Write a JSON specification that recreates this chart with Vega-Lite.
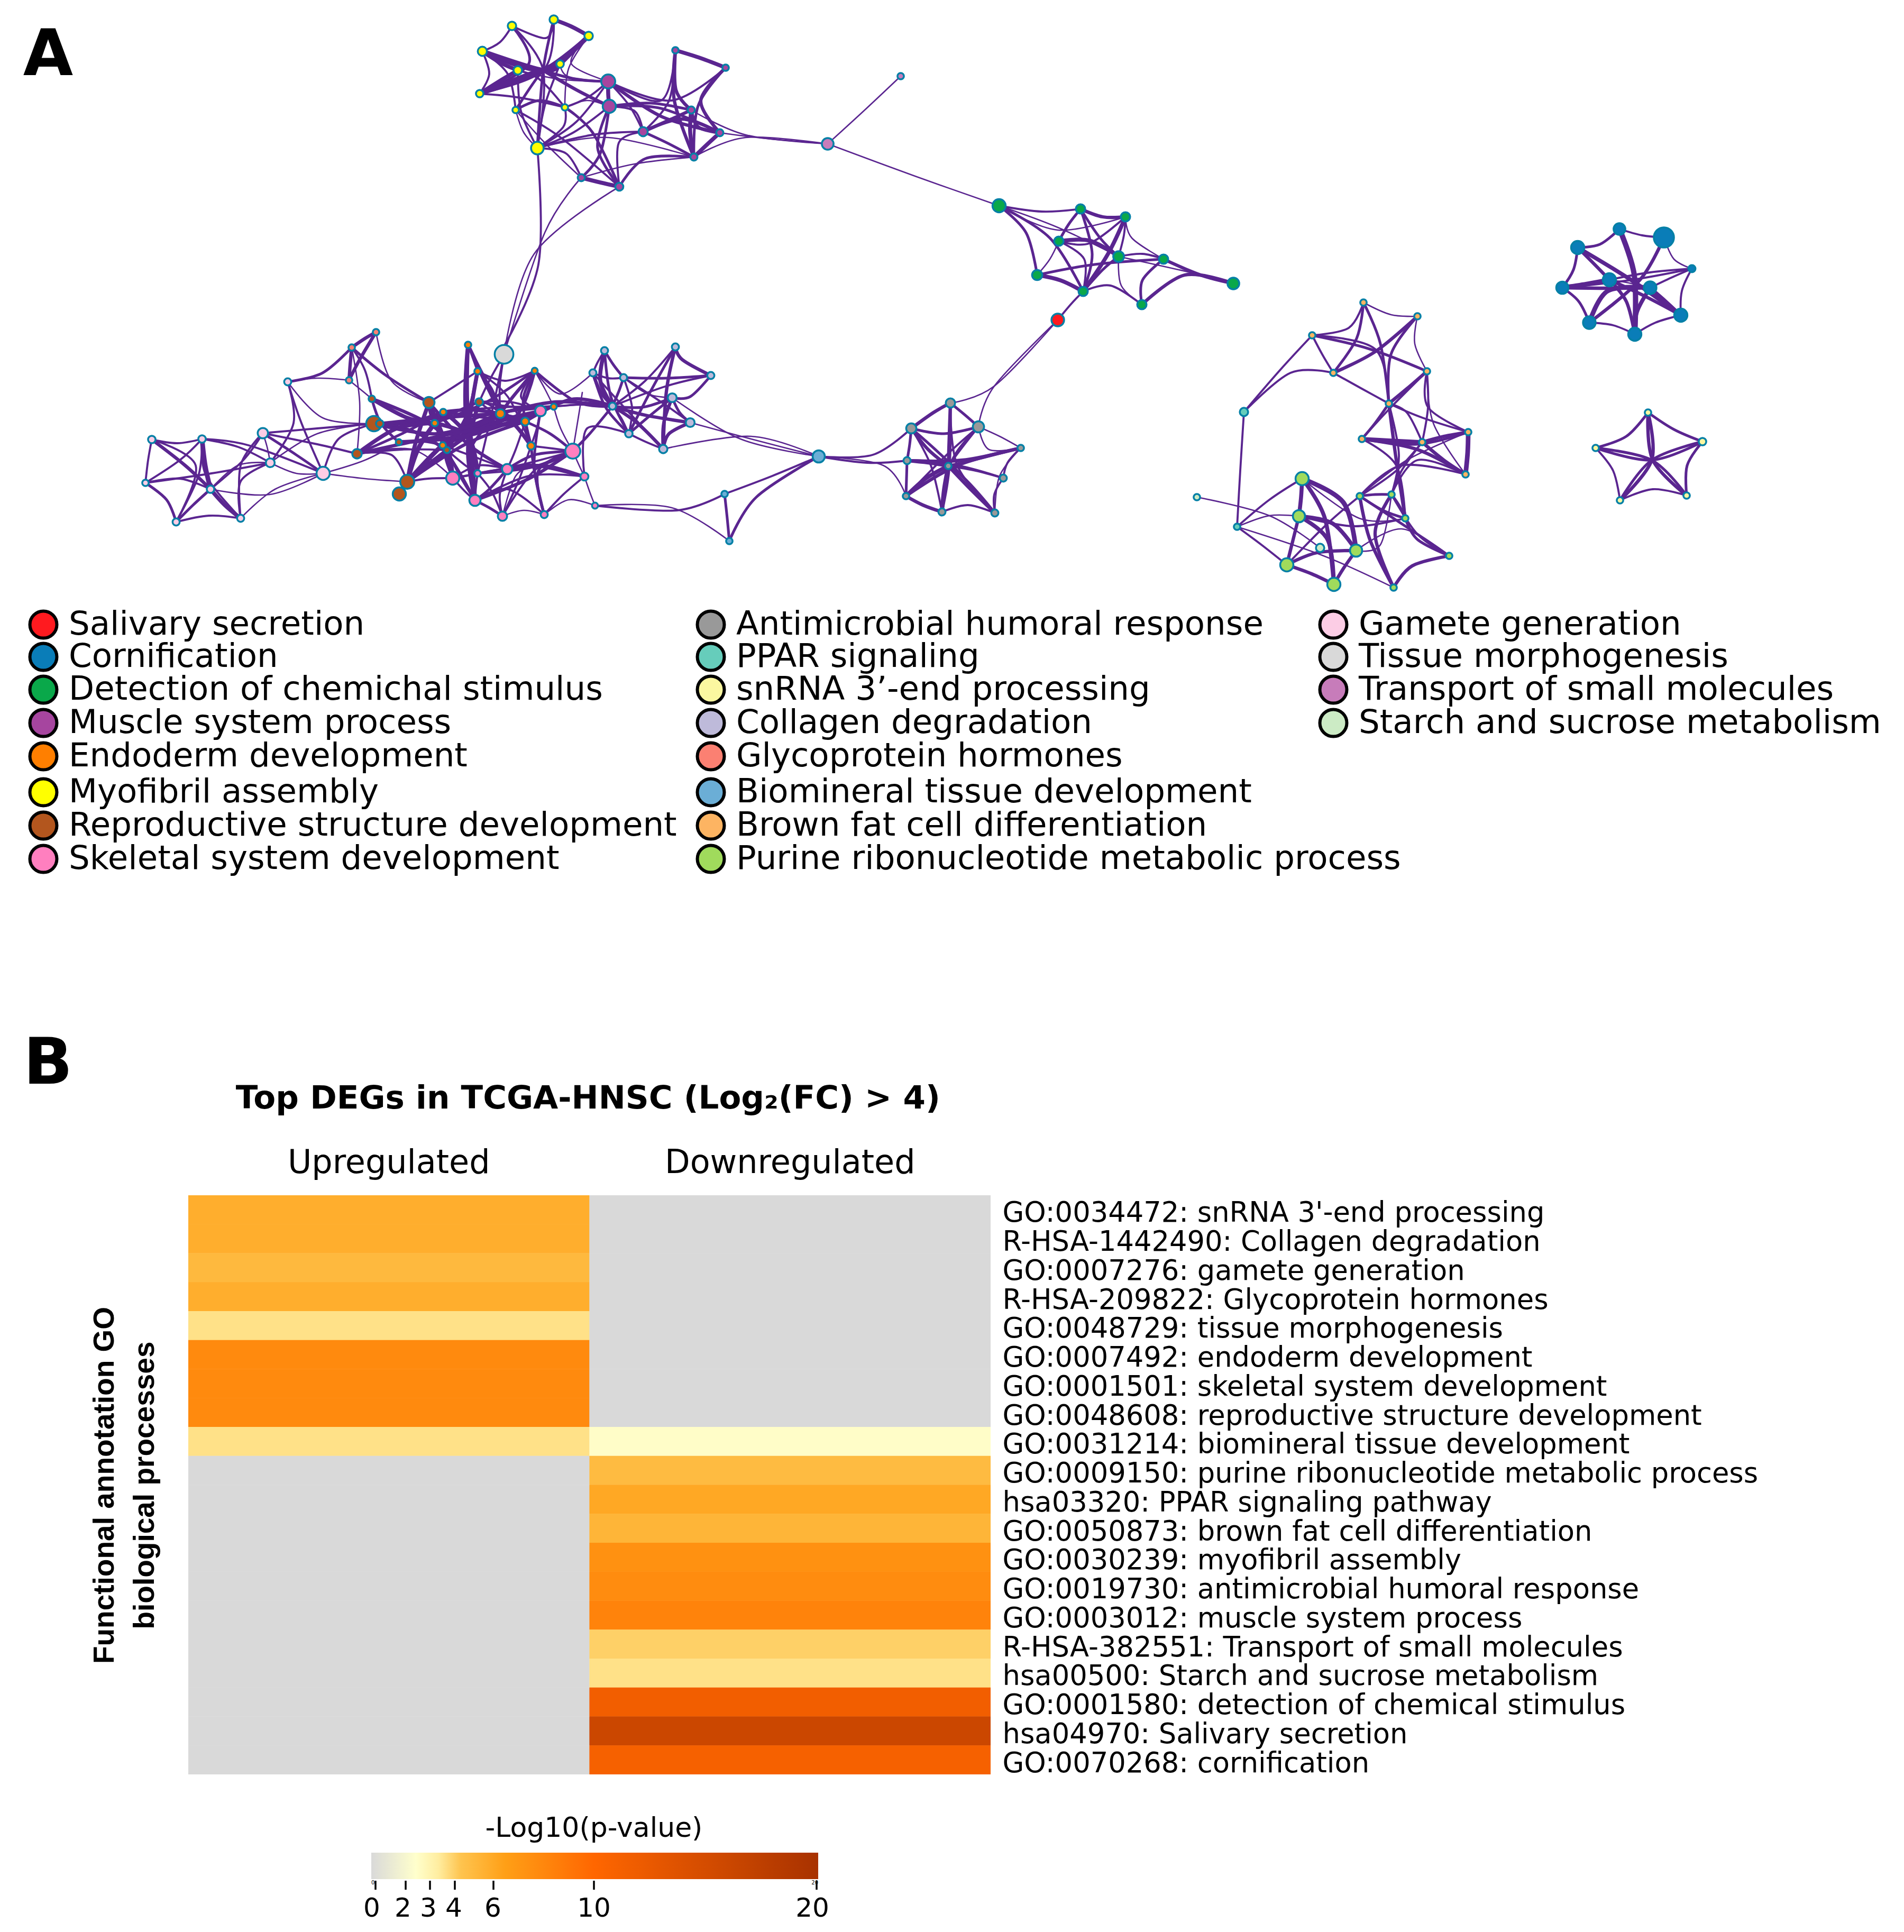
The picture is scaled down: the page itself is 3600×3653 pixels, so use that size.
{"$schema":"https://vega.github.io/schema/vega-lite/v6.json","padding":0,"background":"white","bounds":"flush","spacing":0,"config":{"view":{"stroke":null},"font":"DejaVu Sans","concat":{"spacing":0}},
"datasets":{"edges":[
{"w":3,"x":[968,945,912],"y":[49,80,97]},{"w":3,"x":[968,1027,1016],"y":[49,133,280]},{"w":4,"x":[968,1000,907],"y":[49,120,177]},{"w":3,"x":[968,1032,1047],"y":[49,72,37]},{"w":6,"x":[1047,1080,1113],"y":[37,50,68]},{"w":4,"x":[1047,1027,1016],"y":[37,133,280]},{"w":3,"x":[1047,1027,907],"y":[37,133,177]},{"w":6,"x":[1113,1027,907],"y":[68,133,177]},{"w":5,"x":[1113,1027,912],"y":[68,133,97]},{"w":7,"x":[1113,1085,1059],"y":[68,95,121]},{"w":2,"x":[1113,1075,1068],"y":[68,130,203]},{"w":7,"x":[912,1027,1059],"y":[97,133,121]},{"w":6,"x":[912,945,979],"y":[97,118,133]},{"w":3,"x":[912,925,907],"y":[97,140,177]},{"w":3,"x":[912,960,975],"y":[97,140,208]},{"w":6,"x":[907,950,979],"y":[177,150,133]},{"w":6,"x":[907,1000,1059],"y":[177,140,121]},{"w":3,"x":[907,985,1068],"y":[177,185,203]},{"w":4,"x":[975,1020,1068],"y":[208,190,203]},{"w":4,"x":[975,1027,1059],"y":[208,133,121]},{"w":3,"x":[979,1020,1068],"y":[133,150,203]},{"w":3,"x":[979,985,1016],"y":[133,210,280]},{"w":3,"x":[1059,1030,1016],"y":[121,200,280]},{"w":2,"x":[975,990,1016],"y":[208,250,280]},{"w":3,"x":[1068,1065,1016],"y":[203,240,280]},{"w":4,"x":[1027,1090,1150],"y":[133,150,154]},{"w":2,"x":[1059,1075,1150],"y":[121,145,154]},{"w":2,"x":[1113,1080,1150],"y":[68,120,154]},{"w":2,"x":[979,1060,1150],"y":[133,150,154]},{"w":5,"x":[1027,1090,1152],"y":[133,170,201]},{"w":6,"x":[1150,1150,1152],"y":[154,178,201]},{"w":3,"x":[1150,1110,1068],"y":[154,185,203]},{"w":2,"x":[1152,1110,1068],"y":[201,190,203]},{"w":3,"x":[1150,1090,1016],"y":[154,230,280]},{"w":3,"x":[1152,1085,1016],"y":[201,250,280]},{"w":4,"x":[1068,1120,1171],"y":[203,250,353]},{"w":4,"x":[1152,1135,1099],"y":[201,290,336]},{"w":4,"x":[1152,1130,1171],"y":[201,280,353]},{"w":3,"x":[975,1060,1171],"y":[208,260,353]},{"w":2,"x":[975,1030,1099],"y":[208,270,336]},{"w":3,"x":[1016,1070,1099],"y":[280,290,336]},{"w":3,"x":[1016,1120,1216],"y":[280,255,249]},{"w":6,"x":[1099,1135,1171],"y":[336,345,353]},{"w":3,"x":[1171,1170,1216],"y":[353,270,249]},{"w":2,"x":[1099,1200,1312],"y":[336,310,297]},{"w":4,"x":[1171,1220,1312],"y":[353,300,297]},{"w":4,"x":[1216,1265,1312],"y":[249,272,297]},{"w":3,"x":[1216,1200,1152],"y":[249,210,201]},{"w":3,"x":[1150,1190,1216],"y":[154,200,249]},{"w":5,"x":[1150,1250,1361],"y":[154,220,251]},{"w":4,"x":[1152,1230,1307],"y":[201,195,208]},{"w":4,"x":[1152,1250,1361],"y":[201,205,251]},{"w":3,"x":[1150,1250,1277],"y":[154,190,95]},{"w":3,"x":[1150,1270,1372],"y":[154,190,128]},{"w":6,"x":[1277,1325,1372],"y":[95,110,128]},{"w":5,"x":[1277,1278,1307],"y":[95,170,208]},{"w":5,"x":[1277,1275,1312],"y":[95,190,297]},{"w":3,"x":[1277,1265,1216],"y":[95,190,249]},{"w":4,"x":[1372,1320,1312],"y":[128,200,297]},{"w":5,"x":[1372,1325,1361],"y":[128,190,251]},{"w":6,"x":[1307,1305,1312],"y":[208,250,297]},{"w":5,"x":[1307,1320,1361],"y":[208,240,251]},{"w":5,"x":[1216,1290,1361],"y":[249,225,251]},{"w":5,"x":[1216,1270,1307],"y":[249,225,208]},{"w":6,"x":[1361,1335,1312],"y":[251,275,297]},{"w":2,"x":[1361,1450,1565],"y":[251,262,272]},{"w":2,"x":[1307,1410,1565],"y":[208,255,272]},{"w":2,"x":[1312,1410,1565],"y":[297,260,272]},{"w":2,"x":[1565,1635,1703],"y":[272,208,144]},{"w":2,"x":[1565,1730,1889],"y":[272,333,389]},{"w":3,"x":[1016,1018,947],"y":[280,500,665]},{"w":2,"x":[1099,1030,953],"y":[336,440,670]},{"w":2,"x":[1171,1010,953],"y":[353,480,670]},{"w":2,"x":[1016,1150,1312],"y":[280,260,297]},
{"w":3,"x":[1889,1970,2043],"y":[389,400,395]},{"w":2,"x":[1889,2000,2128],"y":[389,435,410]},{"w":4,"x":[1889,1940,1961],"y":[389,440,520]},{"w":4,"x":[1889,1985,2048],"y":[389,450,551]},{"w":2,"x":[1889,2000,2115],"y":[389,430,485]},{"w":5,"x":[2043,2085,2128],"y":[395,410,410]},{"w":4,"x":[2043,2020,2002],"y":[395,425,456]},{"w":4,"x":[2043,2080,2115],"y":[395,450,485]},{"w":4,"x":[2043,2065,2048],"y":[395,480,551]},{"w":3,"x":[2128,2125,2115],"y":[410,445,485]},{"w":6,"x":[2128,2095,2048],"y":[410,480,551]},{"w":3,"x":[2128,2060,2002],"y":[410,460,456]},{"w":2,"x":[2128,2140,2200],"y":[410,450,490]},{"w":6,"x":[2002,2060,2115],"y":[456,455,485]},{"w":2,"x":[2002,1985,1961],"y":[456,490,520]},{"w":3,"x":[2002,2050,2048],"y":[456,490,551]},{"w":3,"x":[2115,2160,2200],"y":[485,480,490]},{"w":4,"x":[2115,2085,2048],"y":[485,510,551]},{"w":4,"x":[2200,2070,1961],"y":[490,500,520]},{"w":6,"x":[1961,2005,2048],"y":[520,530,551]},{"w":2,"x":[2115,2120,2159],"y":[485,540,576]},{"w":3,"x":[2048,2100,2159],"y":[551,540,576]},{"w":4,"x":[2200,2160,2159],"y":[490,530,576]},{"w":5,"x":[2200,2270,2332],"y":[490,520,536]},{"w":5,"x":[2159,2240,2332],"y":[576,520,536]},{"w":2,"x":[2115,2250,2332],"y":[485,515,536]},{"w":3,"x":[2048,2025,2000],"y":[551,575,605]},{"w":2,"x":[2000,1880,1797],"y":[605,730,762]},{"w":2,"x":[2000,1880,1850],"y":[605,730,807]},
{"w":5,"x":[1797,1765,1723],"y":[762,780,810]},{"w":4,"x":[1797,1825,1850],"y":[762,785,807]},{"w":5,"x":[1797,1795,1793],"y":[762,820,881]},{"w":4,"x":[1797,1795,1781],"y":[762,880,968]},{"w":3,"x":[1797,1810,1881],"y":[762,880,970]},{"w":4,"x":[1723,1785,1850],"y":[810,820,807]},{"w":5,"x":[1723,1755,1793],"y":[810,850,881]},{"w":4,"x":[1723,1720,1715],"y":[810,840,871]},{"w":3,"x":[1723,1760,1781],"y":[810,880,968]},{"w":4,"x":[1723,1800,1881],"y":[810,880,970]},{"w":3,"x":[1850,1790,1713],"y":[807,860,938]},{"w":3,"x":[1850,1820,1793],"y":[807,845,881]},{"w":3,"x":[1850,1800,1781],"y":[807,870,968]},{"w":2,"x":[1850,1870,1930],"y":[807,850,847]},{"w":2,"x":[1850,1890,1930],"y":[807,825,847]},{"w":5,"x":[1715,1755,1793],"y":[871,875,881]},{"w":5,"x":[1715,1820,1930],"y":[871,870,847]},{"w":4,"x":[1715,1714,1713],"y":[871,905,938]},{"w":4,"x":[1715,1800,1881],"y":[871,885,970]},{"w":3,"x":[1715,1810,1897],"y":[871,880,904]},{"w":5,"x":[1930,1810,1713],"y":[847,880,938]},{"w":3,"x":[1930,1905,1897],"y":[847,875,904]},{"w":2,"x":[1930,1890,1881],"y":[847,900,970]},{"w":4,"x":[1930,1860,1793],"y":[847,865,881]},{"w":3,"x":[1897,1880,1881],"y":[904,935,970]},{"w":3,"x":[1897,1845,1793],"y":[904,890,881]},{"w":6,"x":[1793,1750,1713],"y":[881,905,938]},{"w":6,"x":[1793,1785,1781],"y":[881,925,968]},{"w":5,"x":[1793,1835,1881],"y":[881,925,970]},{"w":5,"x":[1713,1745,1781],"y":[938,955,968]},{"w":3,"x":[1781,1830,1881],"y":[968,955,970]},
{"w":3,"x":[1548,1650,1723],"y":[863,860,810]},{"w":3,"x":[1548,1640,1715],"y":[863,875,871]},{"w":2,"x":[1548,1670,1713],"y":[863,880,938]},{"w":3,"x":[1548,1460,1370],"y":[863,900,934]},{"w":4,"x":[1548,1430,1379],"y":[863,940,1023]},{"w":4,"x":[1370,1375,1379],"y":[934,980,1023]},{"w":3,"x":[1125,1280,1370],"y":[956,965,934]},{"w":2,"x":[1125,1270,1379],"y":[956,960,1023]},{"w":2,"x":[1305,1420,1548],"y":[799,830,863]},{"w":2,"x":[1254,1420,1548],"y":[849,825,863]},{"w":2,"x":[1271,1400,1548],"y":[752,830,863]},
{"w":2,"x":[2578,2630,2680],"y":[572,595,598]},{"w":3,"x":[2578,2550,2481],"y":[572,620,634]},{"w":4,"x":[2578,2565,2521],"y":[572,640,705]},{"w":4,"x":[2578,2610,2626],"y":[572,650,763]},{"w":5,"x":[2680,2600,2521],"y":[598,665,705]},{"w":4,"x":[2680,2630,2626],"y":[598,670,763]},{"w":2,"x":[2680,2675,2698],"y":[598,650,702]},{"w":3,"x":[2481,2500,2521],"y":[634,670,705]},{"w":4,"x":[2481,2590,2698],"y":[634,660,702]},{"w":3,"x":[2481,2600,2626],"y":[634,660,763]},{"w":3,"x":[2521,2575,2626],"y":[705,735,763]},{"w":3,"x":[2481,2420,2352],"y":[634,700,779]},{"w":3,"x":[2521,2440,2352],"y":[705,705,779]},{"w":5,"x":[2698,2660,2626],"y":[702,735,763]},{"w":3,"x":[2698,2630,2575],"y":[702,770,830]},{"w":3,"x":[2698,2700,2689],"y":[702,770,836]},{"w":3,"x":[2698,2700,2776],"y":[702,770,817]},{"w":2,"x":[2698,2710,2771],"y":[702,800,897]},{"w":4,"x":[2626,2600,2575],"y":[763,800,830]},{"w":3,"x":[2626,2660,2689],"y":[763,780,836]},{"w":3,"x":[2626,2690,2776],"y":[763,790,817]},{"w":6,"x":[2575,2630,2689],"y":[830,833,836]},{"w":4,"x":[2575,2680,2776],"y":[830,840,817]},{"w":5,"x":[2575,2680,2771],"y":[830,850,897]},{"w":5,"x":[2689,2730,2776],"y":[836,825,817]},{"w":5,"x":[2689,2730,2771],"y":[836,870,897]},{"w":7,"x":[2776,2775,2771],"y":[817,855,897]},{"w":5,"x":[2626,2640,2657],"y":[763,870,980]},{"w":3,"x":[2626,2645,2631],"y":[763,860,935]},{"w":3,"x":[2575,2640,2657],"y":[830,880,980]},{"w":3,"x":[2689,2640,2571],"y":[836,890,938]},{"w":3,"x":[2689,2650,2631],"y":[836,890,935]},{"w":3,"x":[2771,2650,2571],"y":[897,880,938]},{"w":3,"x":[2771,2680,2631],"y":[897,870,935]},{"w":2,"x":[2776,2660,2571],"y":[817,870,938]},{"w":3,"x":[2352,2345,2339],"y":[779,890,996]},{"w":2,"x":[2263,2400,2496],"y":[940,975,1036]},{"w":2,"x":[2339,2500,2635],"y":[996,1050,1111]},{"w":3,"x":[2339,2400,2462],"y":[996,945,905]},{"w":2,"x":[2339,2400,2456],"y":[996,975,976]},{"w":3,"x":[2339,2385,2433],"y":[996,1030,1068]},
{"w":6,"x":[2462,2460,2456],"y":[905,940,976]},{"w":7,"x":[2462,2540,2564],"y":[905,950,1041]},{"w":6,"x":[2462,2505,2522],"y":[905,980,1105]},{"w":5,"x":[2456,2445,2433],"y":[976,1020,1068]},{"w":6,"x":[2456,2520,2564],"y":[976,990,1041]},{"w":6,"x":[2456,2510,2522],"y":[976,1020,1105]},{"w":5,"x":[2564,2490,2433],"y":[1041,1045,1068]},{"w":5,"x":[2564,2540,2522],"y":[1041,1075,1105]},{"w":5,"x":[2433,2480,2522],"y":[1068,1085,1105]},{"w":3,"x":[2433,2510,2571],"y":[1068,990,938]},{"w":3,"x":[2456,2560,2657],"y":[976,995,980]},{"w":2,"x":[2564,2610,2631],"y":[1041,1030,935]},{"w":2,"x":[2462,2570,2657],"y":[905,980,980]},{"w":4,"x":[2571,2600,2631],"y":[938,935,935]},{"w":4,"x":[2571,2615,2657],"y":[938,965,980]},{"w":4,"x":[2631,2645,2657],"y":[935,955,980]},{"w":5,"x":[2571,2590,2635],"y":[938,1020,1111]},{"w":5,"x":[2631,2600,2635],"y":[935,1010,1111]},{"w":4,"x":[2657,2680,2740],"y":[980,1020,1051]},{"w":4,"x":[2571,2680,2740],"y":[938,1010,1051]},{"w":3,"x":[2631,2680,2740],"y":[935,1010,1051]},{"w":5,"x":[2740,2670,2635],"y":[1051,1070,1111]},{"w":2,"x":[2564,2650,2740],"y":[1041,1000,1051]},
{"w":3,"x":[3062,3105,3146],"y":[433,445,449]},{"w":4,"x":[3062,3025,2983],"y":[433,462,468]},{"w":8,"x":[3062,3090,3091],"y":[433,520,632]},{"w":2,"x":[3146,3165,3199],"y":[449,490,508]},{"w":5,"x":[3146,3100,3005],"y":[449,530,610]},{"w":4,"x":[2983,2975,2954],"y":[468,510,544]},{"w":5,"x":[2983,3015,3043],"y":[468,500,529]},{"w":6,"x":[2983,3085,3178],"y":[468,530,596]},{"w":3,"x":[3199,3080,2954],"y":[508,530,544]},{"w":3,"x":[3199,3120,3043],"y":[508,515,529]},{"w":3,"x":[3199,3160,3120],"y":[508,525,544]},{"w":3,"x":[3199,3180,3178],"y":[508,550,596]},{"w":7,"x":[2954,3000,3043],"y":[544,537,529]},{"w":5,"x":[2954,3040,3120],"y":[544,545,544]},{"w":4,"x":[2954,2985,3005],"y":[544,570,610]},{"w":5,"x":[3043,3110,3178],"y":[529,560,596]},{"w":5,"x":[3043,3075,3091],"y":[529,570,632]},{"w":5,"x":[3120,3150,3178],"y":[544,570,596]},{"w":6,"x":[3120,3095,3091],"y":[544,590,632]},{"w":7,"x":[3120,3040,3005],"y":[544,550,610]},{"w":2,"x":[3043,3080,3120],"y":[529,535,544]},{"w":3,"x":[3005,3050,3091],"y":[610,615,632]},{"w":3,"x":[3091,3130,3178],"y":[632,610,596]},
{"w":4,"x":[3116,3165,3219],"y":[780,812,835]},{"w":4,"x":[3116,3075,3017],"y":[780,825,847]},{"w":5,"x":[3116,3125,3189],"y":[780,870,937]},{"w":5,"x":[3116,3123,3063],"y":[780,870,946]},{"w":4,"x":[3219,3123,3017],"y":[835,870,847]},{"w":4,"x":[3219,3190,3189],"y":[835,880,937]},{"w":4,"x":[3219,3123,3063],"y":[835,870,946]},{"w":4,"x":[3017,3123,3189],"y":[847,870,937]},{"w":3,"x":[3017,3050,3063],"y":[847,890,946]},{"w":3,"x":[3189,3125,3063],"y":[937,925,946]},
{"w":3,"x":[287,335,382],"y":[831,838,830]},{"w":3,"x":[287,280,275],"y":[831,870,913]},{"w":5,"x":[287,350,398],"y":[831,880,925]},{"w":3,"x":[287,370,333],"y":[831,880,987]},{"w":3,"x":[382,340,275],"y":[830,870,913]},{"w":7,"x":[382,388,398],"y":[830,880,925]},{"w":3,"x":[382,375,333],"y":[830,900,987]},{"w":3,"x":[382,390,455],"y":[830,900,980]},{"w":3,"x":[382,450,511],"y":[830,845,875]},{"w":3,"x":[382,470,611],"y":[830,842,895]},{"w":2,"x":[497,505,511],"y":[819,845,875]},{"w":4,"x":[497,560,611],"y":[819,860,895]},{"w":3,"x":[497,460,398],"y":[819,870,925]},{"w":3,"x":[497,455,455],"y":[819,880,980]},{"w":3,"x":[497,600,707],"y":[819,810,801]},{"w":3,"x":[497,600,675],"y":[819,840,858]},{"w":3,"x":[511,400,275],"y":[875,895,913]},{"w":2,"x":[511,560,611],"y":[875,895,895]},{"w":2,"x":[511,450,398],"y":[875,880,925]},{"w":3,"x":[511,455,455],"y":[875,910,980]},{"w":3,"x":[511,555,544],"y":[875,800,722]},{"w":2,"x":[511,600,707],"y":[875,820,801]},{"w":3,"x":[611,570,544],"y":[895,800,722]},{"w":3,"x":[611,640,707],"y":[895,830,801]},{"w":2,"x":[611,520,455],"y":[895,925,980]},{"w":2,"x":[611,510,398],"y":[895,935,925]},{"w":4,"x":[544,610,665],"y":[722,705,657]},{"w":2,"x":[544,600,660],"y":[722,715,719]},{"w":2,"x":[544,610,707],"y":[722,790,801]},{"w":3,"x":[275,340,398],"y":[913,905,925]},{"w":4,"x":[275,315,333],"y":[913,945,987]},{"w":6,"x":[398,425,455],"y":[925,955,980]},{"w":4,"x":[398,365,333],"y":[925,955,987]},{"w":3,"x":[333,395,455],"y":[987,975,980]},{"w":2,"x":[611,690,770],"y":[895,905,911]},{"w":2,"x":[611,690,754],"y":[895,870,836]},
{"w":5,"x":[711,690,665],"y":[628,640,657]},{"w":5,"x":[711,680,660],"y":[628,680,719]},{"w":5,"x":[665,662,660],"y":[657,690,719]},{"w":2,"x":[711,740,811],"y":[628,720,761]},{"w":4,"x":[665,730,811],"y":[657,710,761]},{"w":2,"x":[660,680,703],"y":[719,735,754]},{"w":2,"x":[665,680,675],"y":[657,760,858]},{"w":3,"x":[665,690,703],"y":[657,700,754]},
{"w":6,"x":[703,770,822],"y":[754,790,800]},{"w":4,"x":[703,720,754],"y":[754,800,836]},{"w":5,"x":[707,770,838],"y":[801,800,779]},{"w":5,"x":[718,830,946],"y":[801,790,782]},{"w":5,"x":[718,780,845],"y":[801,815,851]},{"w":6,"x":[675,750,822],"y":[858,810,800]},{"w":4,"x":[675,760,838],"y":[858,820,779]},{"w":3,"x":[675,760,845],"y":[858,850,851]},{"w":3,"x":[675,740,770],"y":[858,860,911]},{"w":2,"x":[675,780,856],"y":[858,850,904]},{"w":3,"x":[754,800,837],"y":[836,835,842]},{"w":7,"x":[770,790,822],"y":[911,850,800]},{"w":6,"x":[770,785,811],"y":[911,840,761]},{"w":6,"x":[770,850,946],"y":[911,830,782]},{"w":5,"x":[770,800,837],"y":[911,880,842]},{"w":5,"x":[770,880,993],"y":[911,840,797]},{"w":7,"x":[811,815,822],"y":[761,780,800]},{"w":6,"x":[811,830,845],"y":[761,810,851]},{"w":5,"x":[811,840,856],"y":[761,830,904]},{"w":3,"x":[811,860,903],"y":[761,730,702]},{"w":6,"x":[822,835,845],"y":[800,825,851]},{"w":4,"x":[822,840,856],"y":[800,850,904]},{"w":5,"x":[838,890,946],"y":[779,775,782]},{"w":4,"x":[838,920,993],"y":[779,790,797]},{"w":3,"x":[838,950,1047],"y":[779,770,769]},{"w":4,"x":[822,870,906],"y":[800,775,760]},{"w":4,"x":[822,920,1011],"y":[800,760,701]},{"w":6,"x":[837,890,946],"y":[842,815,782]},{"w":6,"x":[837,915,993],"y":[842,810,797]},{"w":3,"x":[837,900,959],"y":[842,865,887]},{"w":5,"x":[837,930,1022],"y":[842,800,777]},{"w":3,"x":[885,895,903],"y":[652,680,702]},{"w":5,"x":[885,885,903],"y":[652,780,895]},{"w":6,"x":[885,880,898],"y":[652,770,946]},{"w":4,"x":[885,915,946],"y":[652,720,782]},{"w":5,"x":[903,885,845],"y":[702,780,851]},{"w":6,"x":[903,885,898],"y":[702,830,946]},{"w":3,"x":[903,930,946],"y":[702,735,782]},{"w":3,"x":[903,955,1011],"y":[702,720,701]},{"w":3,"x":[903,960,1004],"y":[702,750,843]},{"w":3,"x":[953,945,946],"y":[670,730,782]},{"w":3,"x":[953,925,906],"y":[670,720,760]},{"w":3,"x":[953,930,903],"y":[670,780,895]},{"w":3,"x":[906,925,946],"y":[760,765,782]},{"w":6,"x":[906,885,898],"y":[760,850,946]},{"w":3,"x":[906,980,1047],"y":[760,770,769]},{"w":3,"x":[906,950,993],"y":[760,790,797]},{"w":3,"x":[906,965,1022],"y":[760,760,777]},{"w":5,"x":[1011,970,946],"y":[701,750,782]},{"w":4,"x":[1011,990,993],"y":[701,750,797]},{"w":3,"x":[1011,985,1022],"y":[701,750,777]},{"w":4,"x":[1011,1090,1158],"y":[701,760,768]},{"w":2,"x":[1011,1060,1121],"y":[701,745,705]},{"w":2,"x":[1011,1030,1047],"y":[701,735,769]},{"w":6,"x":[946,975,1004],"y":[782,805,843]},{"w":5,"x":[946,970,993],"y":[782,790,797]},{"w":5,"x":[946,985,1022],"y":[782,790,777]},{"w":4,"x":[946,890,898],"y":[782,850,946]},{"w":5,"x":[946,1050,1158],"y":[782,760,768]},{"w":5,"x":[993,998,1004],"y":[797,820,843]},{"w":3,"x":[993,1005,1022],"y":[797,785,777]},{"w":3,"x":[993,975,959],"y":[797,850,887]},{"w":5,"x":[993,1080,1158],"y":[797,755,768]},{"w":4,"x":[993,1040,1083],"y":[797,820,853]},{"w":4,"x":[1004,1012,1029],"y":[843,900,973]},{"w":3,"x":[1004,980,950],"y":[843,910,976]},{"w":3,"x":[1004,1045,1083],"y":[843,848,853]},{"w":3,"x":[1022,1015,1004],"y":[777,810,843]},{"w":2,"x":[1047,1060,1083],"y":[769,810,853]},{"w":4,"x":[1022,1090,1158],"y":[777,755,768]},{"w":3,"x":[1047,1100,1158],"y":[769,765,768]},
{"w":6,"x":[822,885,903],"y":[800,825,895]},{"w":6,"x":[838,885,898],"y":[779,830,946]},{"w":6,"x":[754,885,1022],"y":[836,823,777]},{"w":5,"x":[703,830,856],"y":[754,815,904]},{"w":6,"x":[966,885,770],"y":[790,823,911]},{"w":5,"x":[845,900,1047],"y":[851,790,769]},{"w":5,"x":[959,885,811],"y":[887,840,761]},{"w":5,"x":[885,966,1011],"y":[652,790,701]},{"w":5,"x":[707,830,946],"y":[801,820,782]},{"w":5,"x":[675,830,993],"y":[858,825,797]},{"w":5,"x":[959,1011,1105],"y":[887,880,901]},{"w":4,"x":[1083,1011,959],"y":[853,860,887]},
{"w":3,"x":[959,905,856],"y":[887,880,904]},{"w":3,"x":[959,930,903],"y":[887,890,895]},{"w":5,"x":[959,1020,1083],"y":[887,880,853]},{"w":4,"x":[959,1030,1105],"y":[887,880,901]},{"w":4,"x":[959,925,898],"y":[887,925,946]},{"w":3,"x":[959,945,950],"y":[887,935,976]},{"w":3,"x":[856,880,898],"y":[904,930,946]},{"w":3,"x":[903,900,898],"y":[895,920,946]},{"w":3,"x":[903,1000,1083],"y":[895,885,853]},{"w":3,"x":[856,980,1083],"y":[904,880,853]},{"w":3,"x":[856,880,903],"y":[904,900,895]},{"w":3,"x":[903,930,950],"y":[895,930,976]},{"w":4,"x":[898,925,950],"y":[946,960,976]},{"w":3,"x":[898,960,1029],"y":[946,925,973]},{"w":5,"x":[898,1000,1083],"y":[946,905,853]},{"w":3,"x":[898,1000,1105],"y":[946,900,901]},{"w":2,"x":[950,990,1029],"y":[976,965,973]},{"w":2,"x":[950,975,1011],"y":[976,900,880]},{"w":3,"x":[1029,1065,1105],"y":[973,935,901]},{"w":2,"x":[1029,1075,1125],"y":[973,945,956]},{"w":4,"x":[1029,1018,1083],"y":[973,890,853]},{"w":3,"x":[950,1010,1083],"y":[976,890,853]},{"w":2,"x":[1105,1115,1125],"y":[901,930,956]},{"w":2,"x":[1083,1095,1105],"y":[853,880,901]},{"w":3,"x":[1105,1110,1189],"y":[901,810,820]},{"w":4,"x":[1083,1115,1158],"y":[853,820,768]},{"w":2,"x":[1083,1095,1101],"y":[853,780,742]},{"w":4,"x":[1022,1010,1029],"y":[777,880,973]},{"w":3,"x":[845,880,903],"y":[851,880,895]},{"w":4,"x":[845,870,898],"y":[851,900,946]},{"w":4,"x":[837,870,898],"y":[842,895,946]},{"w":4,"x":[837,845,856],"y":[842,875,904]},{"w":3,"x":[856,810,770],"y":[904,905,911]},{"w":5,"x":[770,800,845],"y":[911,885,851]},
{"w":3,"x":[1143,1130,1121],"y":[663,685,705]},{"w":4,"x":[1143,1160,1179],"y":[663,690,714]},{"w":6,"x":[1143,1135,1158],"y":[663,720,768]},{"w":4,"x":[1143,1155,1189],"y":[663,750,820]},{"w":5,"x":[1277,1290,1344],"y":[656,680,710]},{"w":5,"x":[1277,1260,1254],"y":[656,740,849]},{"w":4,"x":[1277,1230,1189],"y":[656,740,820]},{"w":3,"x":[1277,1220,1158],"y":[656,720,768]},{"w":5,"x":[1121,1135,1158],"y":[705,740,768]},{"w":4,"x":[1121,1145,1189],"y":[705,770,820]},{"w":3,"x":[1121,1150,1179],"y":[705,715,714]},{"w":3,"x":[1121,1180,1254],"y":[705,770,849]},{"w":4,"x":[1179,1170,1158],"y":[714,740,768]},{"w":4,"x":[1179,1260,1344],"y":[714,715,710]},{"w":3,"x":[1179,1195,1189],"y":[714,770,820]},{"w":2,"x":[1179,1225,1271],"y":[714,745,752]},{"w":3,"x":[1179,1250,1305],"y":[714,760,799]},{"w":3,"x":[1158,1260,1344],"y":[768,730,710]},{"w":4,"x":[1158,1215,1271],"y":[768,770,752]},{"w":5,"x":[1158,1220,1305],"y":[768,785,799]},{"w":5,"x":[1158,1205,1254],"y":[768,800,849]},{"w":4,"x":[1344,1305,1271],"y":[710,750,752]},{"w":4,"x":[1271,1285,1305],"y":[752,780,799]},{"w":5,"x":[1271,1255,1254],"y":[752,800,849]},{"w":5,"x":[1305,1265,1254],"y":[799,820,849]},{"w":3,"x":[1189,1220,1254],"y":[820,835,849]},{"w":4,"x":[1189,1230,1271],"y":[820,785,752]},{"w":2,"x":[1158,1175,1189],"y":[768,790,820]}
],
"nodes":[
{"t":"Myofibril assembly","x":968,"y":49,"n":255},{"t":"Myofibril assembly","x":1047,"y":37,"n":255},{"t":"Myofibril assembly","x":1113,"y":68,"n":255},{"t":"Myofibril assembly","x":912,"y":97,"n":300},{"t":"Myofibril assembly","x":979,"y":133,"n":255},{"t":"Myofibril assembly","x":1059,"y":121,"n":200},{"t":"Myofibril assembly","x":907,"y":177,"n":200},{"t":"Myofibril assembly","x":975,"y":208,"n":150},{"t":"Myofibril assembly","x":1068,"y":203,"n":150},{"t":"Myofibril assembly","x":1016,"y":280,"n":570},
{"t":"Muscle system process","x":1150,"y":154,"n":700},{"t":"Muscle system process","x":1152,"y":201,"n":620},{"t":"Muscle system process","x":1216,"y":249,"n":300},{"t":"Muscle system process","x":1277,"y":95,"n":150},{"t":"Muscle system process","x":1372,"y":128,"n":150},{"t":"Muscle system process","x":1307,"y":208,"n":180},{"t":"Muscle system process","x":1361,"y":251,"n":180},{"t":"Muscle system process","x":1312,"y":297,"n":180},{"t":"Muscle system process","x":1099,"y":336,"n":180},{"t":"Muscle system process","x":1171,"y":353,"n":230},
{"t":"Transport of small molecules","x":1565,"y":272,"n":490},{"t":"Transport of small molecules","x":1703,"y":144,"n":150},
{"t":"Gamete generation","x":287,"y":831,"n":200},{"t":"Gamete generation","x":382,"y":830,"n":200},{"t":"Gamete generation","x":497,"y":819,"n":380},{"t":"Gamete generation","x":511,"y":875,"n":280},{"t":"Gamete generation","x":611,"y":895,"n":620},{"t":"Gamete generation","x":275,"y":913,"n":150},{"t":"Gamete generation","x":398,"y":925,"n":200},{"t":"Gamete generation","x":333,"y":987,"n":180},{"t":"Gamete generation","x":455,"y":980,"n":180},{"t":"Gamete generation","x":544,"y":722,"n":180},
{"t":"Glycoprotein hormones","x":711,"y":628,"n":150},{"t":"Glycoprotein hormones","x":665,"y":657,"n":150},{"t":"Glycoprotein hormones","x":660,"y":719,"n":150},
{"t":"Reproductive structure development","x":703,"y":754,"n":150},{"t":"Reproductive structure development","x":707,"y":801,"n":850},{"t":"Reproductive structure development","x":718,"y":801,"n":200},{"t":"Reproductive structure development","x":811,"y":761,"n":450},{"t":"Reproductive structure development","x":675,"y":858,"n":320},{"t":"Reproductive structure development","x":754,"y":836,"n":130},{"t":"Reproductive structure development","x":755,"y":934,"n":620},{"t":"Reproductive structure development","x":770,"y":911,"n":700},{"t":"Reproductive structure development","x":906,"y":760,"n":200},
{"t":"Endoderm development","x":838,"y":779,"n":150},{"t":"Endoderm development","x":822,"y":800,"n":150},{"t":"Endoderm development","x":837,"y":842,"n":150},{"t":"Reproductive structure development","x":845,"y":851,"n":130},{"t":"Endoderm development","x":885,"y":652,"n":150},{"t":"Endoderm development","x":903,"y":702,"n":150},{"t":"Endoderm development","x":1011,"y":701,"n":130},{"t":"Endoderm development","x":946,"y":782,"n":280},{"t":"Endoderm development","x":993,"y":797,"n":220},{"t":"Endoderm development","x":1047,"y":769,"n":130},{"t":"Endoderm development","x":1004,"y":843,"n":200},
{"t":"Skeletal system development","x":856,"y":904,"n":620},{"t":"Skeletal system development","x":903,"y":895,"n":150},{"t":"Skeletal system development","x":959,"y":887,"n":380},{"t":"Skeletal system development","x":1022,"y":777,"n":410},{"t":"Skeletal system development","x":1083,"y":853,"n":800},{"t":"Skeletal system development","x":1105,"y":901,"n":230},{"t":"Skeletal system development","x":898,"y":946,"n":450},{"t":"Skeletal system development","x":950,"y":976,"n":310},{"t":"Skeletal system development","x":1029,"y":973,"n":180},{"t":"Skeletal system development","x":1125,"y":956,"n":130},
{"t":"Tissue morphogenesis","x":953,"y":670,"n":1250},
{"t":"Collagen degradation","x":1143,"y":663,"n":180},{"t":"Collagen degradation","x":1277,"y":656,"n":180},{"t":"Collagen degradation","x":1121,"y":705,"n":180},{"t":"Collagen degradation","x":1179,"y":714,"n":180},{"t":"Collagen degradation","x":1344,"y":710,"n":180},{"t":"Collagen degradation","x":1271,"y":752,"n":280},{"t":"Collagen degradation","x":1158,"y":768,"n":180},{"t":"Collagen degradation","x":1305,"y":799,"n":280},{"t":"Collagen degradation","x":1189,"y":820,"n":200},{"t":"Collagen degradation","x":1254,"y":849,"n":250},
{"t":"Biomineral tissue development","x":1548,"y":863,"n":530},{"t":"Biomineral tissue development","x":1370,"y":934,"n":150},{"t":"Biomineral tissue development","x":1379,"y":1023,"n":150},
{"t":"Detection of chemichal stimulus","x":1889,"y":389,"n":620},{"t":"Detection of chemichal stimulus","x":2043,"y":395,"n":310},{"t":"Detection of chemichal stimulus","x":2128,"y":410,"n":310},{"t":"Detection of chemichal stimulus","x":2002,"y":456,"n":310},{"t":"Detection of chemichal stimulus","x":2115,"y":485,"n":410},{"t":"Detection of chemichal stimulus","x":2200,"y":490,"n":310},{"t":"Detection of chemichal stimulus","x":1961,"y":520,"n":370},{"t":"Detection of chemichal stimulus","x":2048,"y":551,"n":310},{"t":"Detection of chemichal stimulus","x":2332,"y":536,"n":490},{"t":"Detection of chemichal stimulus","x":2159,"y":576,"n":310},
{"t":"Salivary secretion","x":2000,"y":605,"n":570},
{"t":"Antimicrobial humoral response","x":1797,"y":762,"n":310},{"t":"Antimicrobial humoral response","x":1723,"y":810,"n":370},{"t":"Antimicrobial humoral response","x":1850,"y":807,"n":450},{"t":"Antimicrobial humoral response","x":1930,"y":847,"n":150},{"t":"Antimicrobial humoral response","x":1715,"y":871,"n":180},{"t":"Antimicrobial humoral response","x":1793,"y":881,"n":150},{"t":"Antimicrobial humoral response","x":1897,"y":904,"n":180},{"t":"Antimicrobial humoral response","x":1713,"y":938,"n":150},{"t":"Antimicrobial humoral response","x":1781,"y":968,"n":180},{"t":"Antimicrobial humoral response","x":1881,"y":970,"n":180},
{"t":"Brown fat cell differentiation","x":2578,"y":572,"n":150},{"t":"Brown fat cell differentiation","x":2680,"y":598,"n":150},{"t":"Brown fat cell differentiation","x":2481,"y":634,"n":150},{"t":"Brown fat cell differentiation","x":2521,"y":705,"n":150},{"t":"Brown fat cell differentiation","x":2698,"y":702,"n":150},{"t":"Brown fat cell differentiation","x":2626,"y":763,"n":150},{"t":"Brown fat cell differentiation","x":2575,"y":830,"n":150},{"t":"Brown fat cell differentiation","x":2689,"y":836,"n":150},{"t":"Brown fat cell differentiation","x":2776,"y":817,"n":150},{"t":"Brown fat cell differentiation","x":2771,"y":897,"n":150},
{"t":"PPAR signaling","x":2352,"y":779,"n":250},{"t":"PPAR signaling","x":2339,"y":996,"n":150},
{"t":"Purine ribonucleotide metabolic process","x":2462,"y":905,"n":620},{"t":"Purine ribonucleotide metabolic process","x":2456,"y":976,"n":530},{"t":"Purine ribonucleotide metabolic process","x":2564,"y":1041,"n":530},{"t":"Purine ribonucleotide metabolic process","x":2433,"y":1068,"n":620},{"t":"Purine ribonucleotide metabolic process","x":2522,"y":1105,"n":620},{"t":"Purine ribonucleotide metabolic process","x":2571,"y":938,"n":150},{"t":"Purine ribonucleotide metabolic process","x":2631,"y":935,"n":150},{"t":"Purine ribonucleotide metabolic process","x":2657,"y":980,"n":150},{"t":"Purine ribonucleotide metabolic process","x":2740,"y":1051,"n":150},{"t":"Purine ribonucleotide metabolic process","x":2635,"y":1111,"n":150},
{"t":"Starch and sucrose metabolism","x":2496,"y":1036,"n":250},{"t":"Starch and sucrose metabolism","x":2263,"y":940,"n":150},
{"t":"Cornification","x":3062,"y":433,"n":490},{"t":"Cornification","x":3146,"y":449,"n":1450},{"t":"Cornification","x":2983,"y":468,"n":620},{"t":"Cornification","x":3199,"y":508,"n":180},{"t":"Cornification","x":2954,"y":544,"n":530},{"t":"Cornification","x":3043,"y":529,"n":620},{"t":"Cornification","x":3120,"y":544,"n":570},{"t":"Cornification","x":3178,"y":596,"n":620},{"t":"Cornification","x":3005,"y":610,"n":570},{"t":"Cornification","x":3091,"y":632,"n":620},
{"t":"snRNA 3’-end processing","x":3116,"y":780,"n":150},{"t":"snRNA 3’-end processing","x":3219,"y":835,"n":200},{"t":"snRNA 3’-end processing","x":3017,"y":847,"n":150},{"t":"snRNA 3’-end processing","x":3189,"y":937,"n":150},{"t":"snRNA 3’-end processing","x":3063,"y":946,"n":150}
],
"legendRows":[
{"t":"Salivary secretion","c":1,"r":1},{"t":"Cornification","c":1,"r":2},{"t":"Detection of chemichal stimulus","c":1,"r":3},{"t":"Muscle system process","c":1,"r":4},{"t":"Endoderm development","c":1,"r":5},{"t":"Myofibril assembly","c":1,"r":6},{"t":"Reproductive structure development","c":1,"r":7},{"t":"Skeletal system development","c":1,"r":8},
{"t":"Antimicrobial humoral response","c":2,"r":1},{"t":"PPAR signaling","c":2,"r":2},{"t":"snRNA 3’-end processing","c":2,"r":3},{"t":"Collagen degradation","c":2,"r":4},{"t":"Glycoprotein hormones","c":2,"r":5},{"t":"Biomineral tissue development","c":2,"r":6},{"t":"Brown fat cell differentiation","c":2,"r":7},{"t":"Purine ribonucleotide metabolic process","c":2,"r":8},
{"t":"Gamete generation","c":3,"r":1},{"t":"Tissue morphogenesis","c":3,"r":2},{"t":"Transport of small molecules","c":3,"r":3},{"t":"Starch and sucrose metabolism","c":3,"r":4}],
"heat":[
{"g":"Upregulated","p":"GO:0034472: snRNA 3'-end processing","v":5.2},{"g":"Downregulated","p":"GO:0034472: snRNA 3'-end processing","v":0},
{"g":"Upregulated","p":"R-HSA-1442490: Collagen degradation","v":5.2},{"g":"Downregulated","p":"R-HSA-1442490: Collagen degradation","v":0},
{"g":"Upregulated","p":"GO:0007276: gamete generation","v":4.6},{"g":"Downregulated","p":"GO:0007276: gamete generation","v":0},
{"g":"Upregulated","p":"R-HSA-209822: Glycoprotein hormones","v":5.2},{"g":"Downregulated","p":"R-HSA-209822: Glycoprotein hormones","v":0},
{"g":"Upregulated","p":"GO:0048729: tissue morphogenesis","v":3.3},{"g":"Downregulated","p":"GO:0048729: tissue morphogenesis","v":0},
{"g":"Upregulated","p":"GO:0007492: endoderm development","v":7.5},{"g":"Downregulated","p":"GO:0007492: endoderm development","v":0},
{"g":"Upregulated","p":"GO:0001501: skeletal system development","v":7.5},{"g":"Downregulated","p":"GO:0001501: skeletal system development","v":0},
{"g":"Upregulated","p":"GO:0048608: reproductive structure development","v":7.5},{"g":"Downregulated","p":"GO:0048608: reproductive structure development","v":0},
{"g":"Upregulated","p":"GO:0031214: biomineral tissue development","v":3.3},{"g":"Downregulated","p":"GO:0031214: biomineral tissue development","v":2.1},
{"g":"Upregulated","p":"GO:0009150: purine ribonucleotide metabolic process","v":0},{"g":"Downregulated","p":"GO:0009150: purine ribonucleotide metabolic process","v":4.5},
{"g":"Upregulated","p":"hsa03320: PPAR signaling pathway","v":0},{"g":"Downregulated","p":"hsa03320: PPAR signaling pathway","v":5.5},
{"g":"Upregulated","p":"GO:0050873: brown fat cell differentiation","v":0},{"g":"Downregulated","p":"GO:0050873: brown fat cell differentiation","v":4.8},
{"g":"Upregulated","p":"GO:0030239: myofibril assembly","v":0},{"g":"Downregulated","p":"GO:0030239: myofibril assembly","v":7},
{"g":"Upregulated","p":"GO:0019730: antimicrobial humoral response","v":0},{"g":"Downregulated","p":"GO:0019730: antimicrobial humoral response","v":7.3},
{"g":"Upregulated","p":"GO:0003012: muscle system process","v":0},{"g":"Downregulated","p":"GO:0003012: muscle system process","v":8},
{"g":"Upregulated","p":"R-HSA-382551: Transport of small molecules","v":0},{"g":"Downregulated","p":"R-HSA-382551: Transport of small molecules","v":3.7},
{"g":"Upregulated","p":"hsa00500: Starch and sucrose metabolism","v":0},{"g":"Downregulated","p":"hsa00500: Starch and sucrose metabolism","v":3.3},
{"g":"Upregulated","p":"GO:0001580: detection of chemical stimulus","v":0},{"g":"Downregulated","p":"GO:0001580: detection of chemical stimulus","v":11.5},
{"g":"Upregulated","p":"hsa04970: Salivary secretion","v":0},{"g":"Downregulated","p":"hsa04970: Salivary secretion","v":16},
{"g":"Upregulated","p":"GO:0070268: cornification","v":0},{"g":"Downregulated","p":"GO:0070268: cornification","v":11}
]},
"vconcat":[
{"width":3600,"height":1130,"layer":[
{"data":{"name":"edges"},"transform":[{"window":[{"op":"row_number","as":"e"}]},{"flatten":["x","y"]}],"mark":{"type":"line","interpolate":"cardinal","stroke":"#5a2590","strokeCap":"round","opacity":1},"encoding":{"x":{"field":"x","type":"quantitative","axis":null,"scale":{"domain":[0,3600],"range":[0,3600],"nice":false,"zero":false}},"y":{"field":"y","type":"quantitative","axis":null,"scale":{"domain":[0,1130],"range":[0,1130],"nice":false,"zero":false}},"detail":{"field":"e"},"order":{"value":null},"strokeWidth":{"field":"w","type":"quantitative","legend":null,"scale":{"domain":[1,8],"range":[1.4,10]}}}},
{"data":{"name":"nodes"},"mark":{"type":"circle","stroke":"#0480a6","strokeWidth":3.5,"opacity":1},"encoding":{"x":{"field":"x","type":"quantitative"},"y":{"field":"y","type":"quantitative"},"size":{"field":"n","type":"quantitative","legend":null,"scale":{"domain":[0,1500],"range":[0,1500]}},"fill":{"field":"t","type":"nominal","legend":null,"scale":{"domain":["Salivary secretion","Cornification","Detection of chemichal stimulus","Muscle system process","Endoderm development","Myofibril assembly","Reproductive structure development","Skeletal system development","Antimicrobial humoral response","PPAR signaling","snRNA 3’-end processing","Collagen degradation","Glycoprotein hormones","Biomineral tissue development","Brown fat cell differentiation","Purine ribonucleotide metabolic process","Gamete generation","Tissue morphogenesis","Transport of small molecules","Starch and sucrose metabolism"],"range":["#ff1a1f","#0a7db8","#0aa84a","#a6459f","#ff7f00","#ffff00","#b3561e","#ff7fbf","#999999","#66cdbb","#fbf7a0","#bebada","#fb8072","#6baed6","#fdb462","#a0db5c","#fccde5","#d9d9d9","#c77cba","#ccebc5"]}}}},
{"data":{"values":[{"label":"A","x":91,"y":105}]},"mark":{"type":"text","fontSize":122,"fontWeight":"bold","align":"center","baseline":"middle","font":"DejaVu Sans","color":"black"},"encoding":{"x":{"field":"x","type":"quantitative"},"y":{"field":"y","type":"quantitative"},"text":{"field":"label"}}}
]},
{"width":3600,"height":1130,"layer":[
{"data":{"name":"legendRows"},"mark":{"type":"circle","stroke":"black","strokeWidth":6,"size":2600,"opacity":1},"encoding":{"x":{"field":"c","type":"quantitative","axis":null,"scale":{"domain":[1,2,3],"range":[82,1344,2521],"nice":false,"zero":false}},"y":{"field":"r","type":"quantitative","axis":null,"scale":{"domain":[1,2,3,4,5,6,7,8,9,10],"range":[51,112,174,237,300,368,431,494,882,948],"nice":false,"zero":false}},"fill":{"field":"t","type":"nominal","legend":null,"scale":{"domain":["Salivary secretion","Cornification","Detection of chemichal stimulus","Muscle system process","Endoderm development","Myofibril assembly","Reproductive structure development","Skeletal system development","Antimicrobial humoral response","PPAR signaling","snRNA 3’-end processing","Collagen degradation","Glycoprotein hormones","Biomineral tissue development","Brown fat cell differentiation","Purine ribonucleotide metabolic process","Gamete generation","Tissue morphogenesis","Transport of small molecules","Starch and sucrose metabolism"],"range":["#ff1a1f","#0a7db8","#0aa84a","#a6459f","#ff7f00","#ffff00","#b3561e","#ff7fbf","#999999","#66cdbb","#fbf7a0","#bebada","#fb8072","#6baed6","#fdb462","#a0db5c","#fccde5","#d9d9d9","#c77cba","#ccebc5"]}}}},
{"data":{"name":"legendRows"},"mark":{"type":"text","fontSize":62.6,"align":"left","baseline":"middle","dx":48,"font":"DejaVu Sans","color":"black"},"encoding":{"x":{"field":"c","type":"quantitative"},"y":{"field":"r","type":"quantitative"},"text":{"field":"t"}}},
{"data":{"values":[{"label":"B","c":1.007,"r":9}]},"mark":{"type":"text","fontSize":122,"fontWeight":"bold","align":"center","baseline":"middle","font":"DejaVu Sans","color":"black"},"encoding":{"x":{"field":"c","type":"quantitative"},"y":{"field":"r","type":"quantitative"},"text":{"field":"label"}}},
{"data":{"values":[{"label":"Top DEGs in TCGA-HNSC (Log₂(FC) > 4)","c":1.816,"r":10}]},"mark":{"type":"text","fontSize":61,"fontWeight":"bold","align":"center","baseline":"middle","font":"DejaVu Sans","color":"black"},"encoding":{"x":{"field":"c","type":"quantitative"},"y":{"field":"r","type":"quantitative"},"text":{"field":"label"}}}
]},
{"width":3600,"height":1393,"resolve":{"scale":{"x":"independent","y":"independent"}},"layer":[
{"data":{"name":"heat"},"mark":{"type":"rect"},"encoding":{"x":{"field":"g","type":"nominal","sort":null,"scale":{"domain":["Upregulated","Downregulated"],"range":[356,1873],"paddingInner":0,"paddingOuter":0},"axis":null},"y":{"field":"p","type":"nominal","sort":null,"scale":{"domain":["GO:0034472: snRNA 3'-end processing","R-HSA-1442490: Collagen degradation","GO:0007276: gamete generation","R-HSA-209822: Glycoprotein hormones","GO:0048729: tissue morphogenesis","GO:0007492: endoderm development","GO:0001501: skeletal system development","GO:0048608: reproductive structure development","GO:0031214: biomineral tissue development","GO:0009150: purine ribonucleotide metabolic process","hsa03320: PPAR signaling pathway","GO:0050873: brown fat cell differentiation","GO:0030239: myofibril assembly","GO:0019730: antimicrobial humoral response","GO:0003012: muscle system process","R-HSA-382551: Transport of small molecules","hsa00500: Starch and sucrose metabolism","GO:0001580: detection of chemical stimulus","hsa04970: Salivary secretion","GO:0070268: cornification"],"range":[0,1095],"paddingInner":0,"paddingOuter":0},"axis":null},"color":{"field":"v","type":"quantitative","scale":{"domain":[0,2,3,4,6,10,20],"range":["#d9d9d9","#ffffcc","#ffeda0","#fec44f","#ff9f16","#ff6600","#a83200"],"interpolate":"rgb"},"legend":{"orient":"none","legendX":702,"legendY":3503,"direction":"horizontal","gradientLength":845,"gradientThickness":50,"title":null,"labels":false,"values":[0,20],"gradientStrokeWidth":0}}}},
{"data":{"name":"heat"},"mark":{"type":"rect"},"encoding":{"x":{"field":"g","type":"nominal","sort":null,"scale":{"domain":["Upregulated","Downregulated"],"range":[356,1873],"paddingInner":0,"paddingOuter":0},"axis":{"orient":"top","title":null,"domain":false,"ticks":false,"labelAngle":0,"labelFontSize":62,"labelPadding":30,"labelLimit":1000,"labelColor":"black","labelFont":"DejaVu Sans"}},"y":{"field":"p","type":"nominal","sort":null,"scale":{"domain":["GO:0034472: snRNA 3'-end processing","R-HSA-1442490: Collagen degradation","GO:0007276: gamete generation","R-HSA-209822: Glycoprotein hormones","GO:0048729: tissue morphogenesis","GO:0007492: endoderm development","GO:0001501: skeletal system development","GO:0048608: reproductive structure development","GO:0031214: biomineral tissue development","GO:0009150: purine ribonucleotide metabolic process","hsa03320: PPAR signaling pathway","GO:0050873: brown fat cell differentiation","GO:0030239: myofibril assembly","GO:0019730: antimicrobial humoral response","GO:0003012: muscle system process","R-HSA-382551: Transport of small molecules","hsa00500: Starch and sucrose metabolism","GO:0001580: detection of chemical stimulus","hsa04970: Salivary secretion","GO:0070268: cornification"],"range":[0,1095],"paddingInner":0,"paddingOuter":0},"axis":{"orient":"right","offset":-1727,"domain":false,"ticks":false,"labelFontSize":52.7,"labelPadding":22,"labelOffset":7,"labelLimit":0,"labelColor":"black","labelFont":"DejaVu Sans","title":["Functional annotation GO","biological processes"],"titleFontSize":55,"titleFontWeight":"bold","titleColor":"black","titleFont":"Liberation Sans","titleAngle":270,"titleX":-1676,"titleY":548,"titleAlign":"center","titleBaseline":"middle","titleLineHeight":76}},"color":{"field":"v","type":"quantitative","scale":{"domain":[0,2,3,4,6,10,20],"range":["#d9d9d9","#ffffcc","#ffeda0","#fec44f","#ff9f16","#ff6600","#a83200"],"interpolate":"rgb"},"legend":{"orient":"none","legendX":702,"legendY":3503,"direction":"horizontal","gradientLength":845,"gradientThickness":50,"title":null,"labels":false,"values":[0,20],"gradientStrokeWidth":0}}}},
{"data":{"values":[{"v":0},{"v":2},{"v":3},{"v":4},{"v":6},{"v":10},{"v":20}]},"mark":{"type":"rule","stroke":"black","strokeWidth":3.5},"encoding":{"x":{"field":"v","type":"quantitative","axis":null,"scale":{"domain":[0,2,3,4,6,10,20],"range":[710,767,813,860,933,1123,1544],"nice":false,"zero":false}},"y":{"value":1296},"y2":{"value":1313}}},
{"data":{"values":[{"v":0},{"v":2},{"v":3},{"v":4},{"v":6},{"v":10},{"v":20}]},"mark":{"type":"text","fontSize":50,"align":"center","baseline":"middle","font":"DejaVu Sans","color":"black"},"encoding":{"x":{"field":"v","type":"quantitative","axis":null,"scale":{"domain":[0,2,3,4,6,10,20],"range":[703,762,810,858,932,1123,1536],"nice":false,"zero":false}},"y":{"value":1349},"text":{"field":"v"}}},
{"data":{"values":[{"label":"-Log10(p-value)","v":10}]},"mark":{"type":"text","fontSize":52,"align":"center","baseline":"middle","font":"DejaVu Sans","color":"black"},"encoding":{"x":{"field":"v","type":"quantitative","axis":null,"scale":{"domain":[0,20],"range":[1113,1133],"nice":false,"zero":false}},"y":{"value":1197},"text":{"field":"label"}}}
]}
]}
